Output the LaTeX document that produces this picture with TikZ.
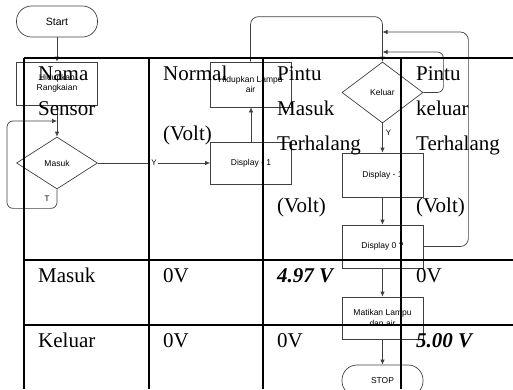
\documentclass[tikz,border=0pt]{standalone}
\usepackage{fontspec}
\setmainfont{Liberation Serif}
\setsansfont{Liberation Sans}
\usetikzlibrary{shapes.geometric, arrows.meta, positioning}

\tikzset{
  flowbox/.style={draw=black!75, line width=0.7pt, minimum width=81pt, minimum height=43pt,
    inner sep=1pt, align=center, font=\sffamily\fontsize{8.5}{10.5}\selectfont},
  term/.style={flowbox, rounded corners=15pt, minimum height=31pt},
  decision/.style={flowbox, diamond, inner sep=0pt},
  flow/.style={draw=black!75, line width=0.7pt},
  arr/.style={flow, -{Latex[length=5pt,width=4.5pt]}},
  lbl/.style={font=\sffamily\fontsize{8}{9}\selectfont, inner sep=1pt},
  grid/.style={line width=2pt},
  tab/.style={anchor=base west, inner sep=0pt, font=\fontsize{21}{24}\selectfont},
}

\begin{document}
\begin{tikzpicture}[x=1pt, y=-1pt]
        \useasboundingbox (0,0) rectangle (513,389);

        % Left column of the flowchart
        \node[term, font=\sffamily\fontsize{10.5}{12}\selectfont] (start) at (57,21.5) {Start};
        \node[flowbox] (hr) at (57,83.5) {Hidupkan\\Rangkaian};
        \node[decision, minimum height=52pt] (mas) at (57,163) {Masuk};
        \coordinate (mback) at (57,121);

        % Middle column
        \node[flowbox, minimum height=42pt] (d1) at (251,163) {Display - 1};
        \node[flowbox, minimum height=45pt] (hla) at (250.5,84.5) {Hidupkan Lampu\\air};

        % Right column
        \node[decision, minimum height=61pt] (kel) at (382.5,92.5) {Keluar};
        \node[flowbox, minimum height=44pt] (dm) at (382.5,175) {Display - 1};
        \node[flowbox] (d0) at (382.5,246.5) {Display 0 ?};
        \node[flowbox, minimum height=42pt] (mat) at (382.5,318) {Matikan Lampu\\dan air};
        \node[term] (stop) at (382.5,380.5) {STOP};
        \coordinate (kin1) at (382.5,52);
        \coordinate (kin2) at (382.5,32);

        % Connectors
        \draw[arr] (start) -- (hr);
        \draw[arr] (hr) -- (mas);
        \draw[arr, rounded corners=6pt] (mas.south) -- ++(0,19) -- ++(-50,0) |- (mback);
        \node[lbl] (tlbl) at (47,199) {T};
        \draw[arr] (mas) -- node[lbl, fill=white] {Y} (d1);
        \draw[arr] (d1.north) -- (d1.north |- hla.south);
        \draw[arr, rounded corners=8pt] (hla.north) -- ++(0,-45) -| (kel.north);
        \draw[arr] (kel) -- node[lbl, right=2pt, pos=0.33] {Y} (dm);
        \draw[arr, rounded corners=6pt] (kel.east) -- ++(20,0) |- (kin1);
        \draw[arr] (dm) -- (d0);
        \draw[arr, rounded corners=8pt] (d0.east) -- ++(45,0) |- (kin2);
        \draw[arr] (d0) -- (mat);
        \draw[arr] (mat) -- (stop);

        % Table lines
        \draw[grid] (24,58) -- (513,58);
        \draw[grid] (24,260) -- (513,260);
        \draw[grid] (24,325) -- (513,325);
        \draw[grid] (24,58) -- (24,389);
        \draw[grid] (149,58) -- (149,389);
        \draw[grid] (263,58) -- (263,389);
        \draw[grid] (401,58) -- (401,389);

        % Table header
        \node[tab] (h1a) at (38,80) {Nama};
        \node[tab] (h1b) at (38,115) {Sensor};
        \node[tab] (h2a) at (163,80) {Normal};
        \node[tab] (h2b) at (163,140) {(Volt)};
        \node[tab] (h3a) at (277,80) {Pintu};
        \node[tab] (h3b) at (277,115) {Masuk};
        \node[tab] (h3c) at (277,150) {Terhalang};
        \node[tab] (h3d) at (277,212) {(Volt)};
        \node[tab] (h4a) at (416,80) {Pintu};
        \node[tab] (h4b) at (416,115) {keluar};
        \node[tab] (h4c) at (416,150) {Terhalang};
        \node[tab] (h4d) at (416,212) {(Volt)};

        % Table rows
        \node[tab] (r1a) at (38,282) {Masuk};
        \node[tab] (r1b) at (163,282) {0V};
        \node[tab, font=\fontsize{21}{24}\selectfont\bfseries\itshape] (r1c) at (277,282) {4.97 V};
        \node[tab] (r1d) at (416,282) {0V};
        \node[tab] (r2a) at (38,347) {Keluar};
        \node[tab] (r2b) at (163,347) {0V};
        \node[tab] (r2c) at (277,347) {0V};
        \node[tab, font=\fontsize{21}{24}\selectfont\bfseries\itshape] (r2d) at (416,347) {5.00 V};

    \end{tikzpicture}
\end{document}
